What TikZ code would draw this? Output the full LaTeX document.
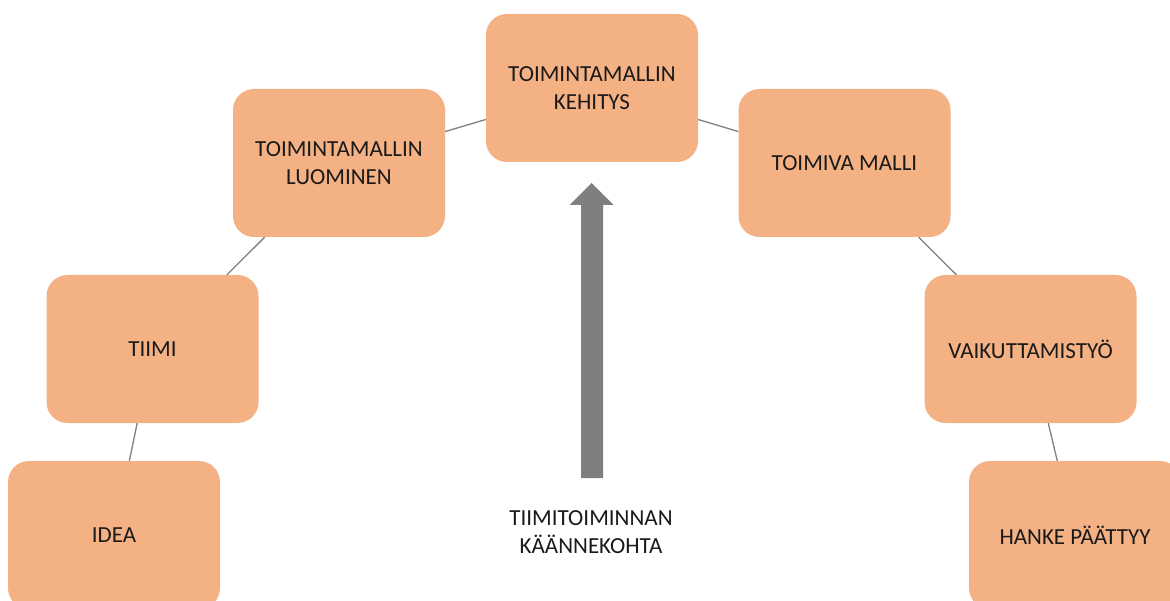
\documentclass[tikz,border=0pt]{standalone}
\usepackage{fontspec}
\setmainfont{Carlito}
\definecolor{boxfill}{HTML}{F4B183}
\definecolor{conncol}{HTML}{808080}
\definecolor{arrowcol}{HTML}{7F7F7F}
\definecolor{txtcol}{HTML}{1A1A1A}
\tikzset{
  stage/.style={draw=none, fill=boxfill, rounded corners=21pt, minimum width=212pt,
    minimum height=148pt, inner sep=0pt, align=center, text=txtcol,
    font=\fontsize{23}{28}\selectfont},
  conn/.style={draw=conncol, line width=1.3pt},
  label/.style={align=center, text=txtcol, font=\fontsize{23}{28}\selectfont}
}
\begin{document}
\begin{tikzpicture}[x=1pt,y=-1pt]
\useasboundingbox (0,0) rectangle (1170,601);
\clip (0,0) rectangle (1170,601);
\fill[white] (0,0) rectangle (1170,601);
\node[stage] (idea) at (114,535) {IDEA};
\node[stage] (tiimi) at (152.5,349) {TIIMI};
\node[stage] (luominen) at (339,163) {TOIMINTAMALLIN\\LUOMINEN};
\node[stage] (kehitys) at (592,88) {TOIMINTAMALLIN\\KEHITYS};
\node[stage] (toimiva) at (844.5,163) {TOIMIVA MALLI};
\node[stage] (vaik) at (1030.5,349) {VAIKUTTAMISTYÖ};
\node[stage] (hanke) at (1075,535) {HANKE PÄÄTTYY};
\begin{scope}[on background layer/.try]
\end{scope}
\draw[conn] (idea) -- (tiimi);
\draw[conn] (tiimi) -- (luominen);
\draw[conn] (luominen) -- (kehitys);
\draw[conn] (kehitys) -- (toimiva);
\draw[conn] (toimiva) -- (vaik);
\draw[conn] (vaik) -- (hanke);
\fill[arrowcol] (581,478) -- (581,205) -- (569.5,205) -- (591.5,183) -- (613.5,205) -- (603,205) -- (603,478) -- cycle;
\node[label] (turn) at (591,532) {TIIMITOIMINNAN\\KÄÄNNEKOHTA};
\end{tikzpicture}
\end{document}
